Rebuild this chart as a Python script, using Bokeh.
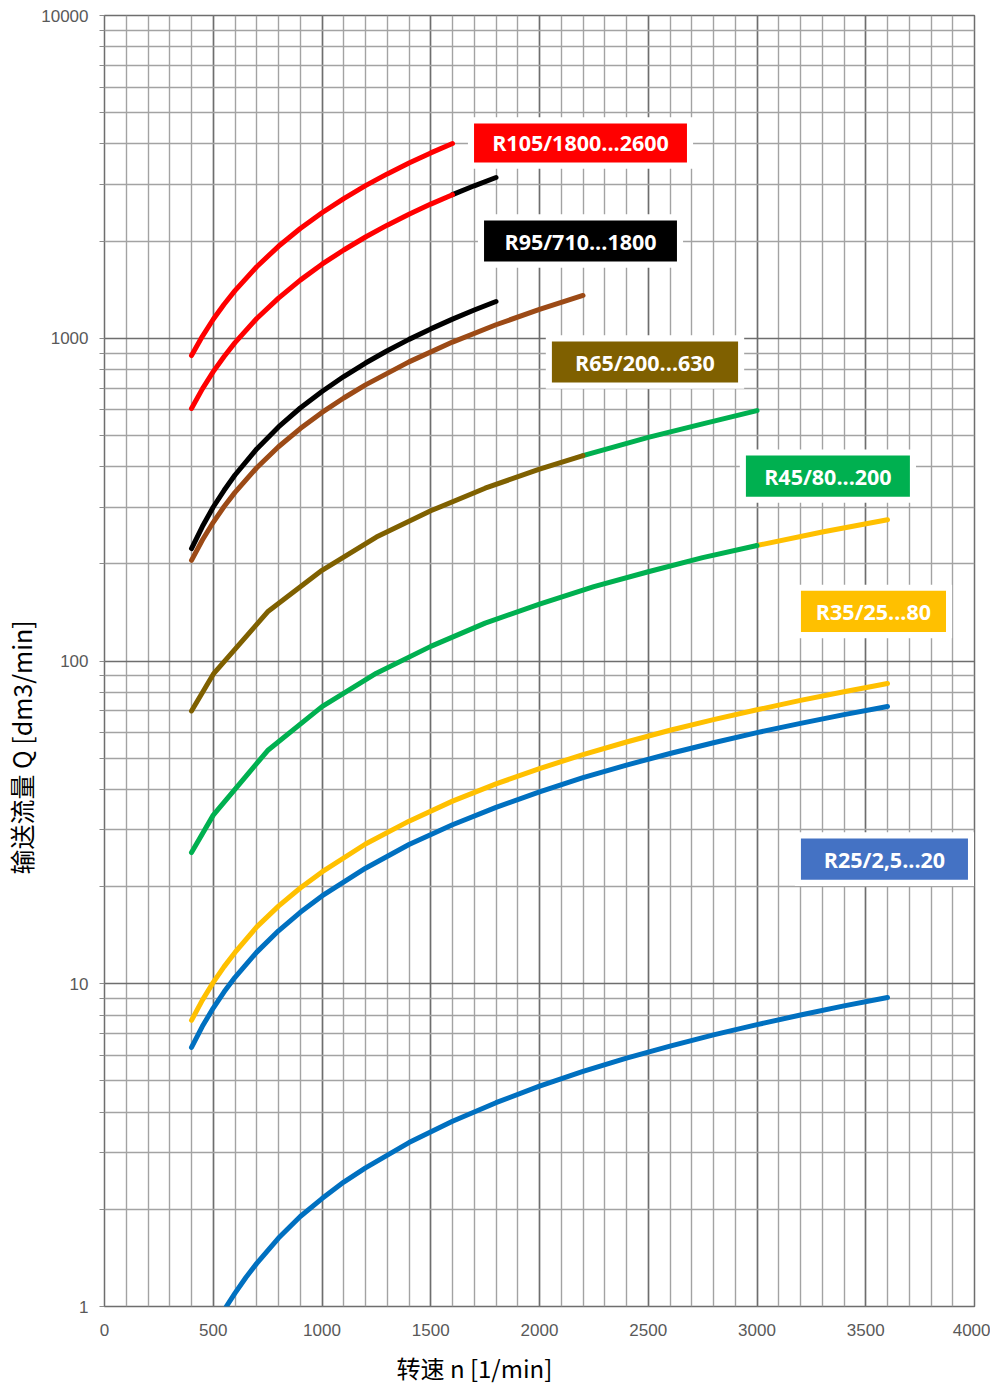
from bokeh.plotting import figure
from bokeh.models import Range1d, FixedTicker, NumeralTickFormatter, Title
from bokeh.core.properties import value
from bokeh.embed import file_html
from bokeh.resources import INLINE

# ---------------- data ----------------
n_r105_top = [400, 450, 500, 550, 600, 700, 800, 900, 1000, 1100, 1200, 1300,
              1400, 1500, 1600]
q_r105_top = [884, 1014, 1145, 1275, 1405, 1666, 1927, 2188, 2448, 2709, 2970,
              3230, 3491, 3752, 4012]

n_r105_low = [400, 450, 500, 550, 600, 700, 800, 900, 1000, 1100, 1200, 1300,
              1400, 1500, 1600]
q_r105_low = [606, 697, 788, 878, 969, 1151, 1332, 1514, 1696, 1877, 2059, 2241,
              2422, 2604, 2785]
n_r95_top = [1600, 1700, 1800]
q_r95_top = [2785, 2967, 3148]

n_r95_low = [400, 450, 500, 550, 600, 700, 800, 900, 1000, 1100, 1200, 1300,
             1400, 1500, 1600, 1700, 1800]
q_r95_low = [223, 261, 300, 338, 377, 454, 531, 608, 684, 761, 838, 915, 992,
             1069, 1146, 1223, 1300]

n_brown = [400, 450, 500, 550, 600, 700, 800, 900, 1000, 1100, 1200, 1400, 1600,
           1800, 2000, 2200]
q_brown = [205, 237, 269, 301, 333, 397, 461, 525, 589, 653, 717, 845, 973, 1101,
           1229, 1357]

n_r65_low = [400, 500, 750, 1000, 1250, 1500, 1750, 2000, 2200]
q_r65_low = [70, 91, 142, 191, 242, 292, 343, 393, 433]
n_r45_top = [2200, 2500, 2750, 3000]
q_r45_top = [433, 493, 543, 597]

n_r45_low = [400, 500, 750, 1000, 1250, 1500, 1750, 2000, 2250, 2500, 2750, 3000]
q_r45_low = [25.5, 33.3, 52.8, 72.2, 91.7, 111, 131, 150, 170, 189, 209, 228]
n_r35_top = [3000, 3300, 3600]
q_r35_top = [228, 251, 274]

n_full = [400, 450, 500, 550, 600, 700, 800, 900, 1000, 1200, 1400, 1600, 1800,
          2000, 2200, 2400, 2600, 2800, 3000, 3200, 3400, 3600]
q_r35_low = [7.7, 8.9, 10.1, 11.3, 12.5, 15.0, 17.4, 19.8, 22.2, 27.1, 31.9,
             36.8, 41.6, 46.4, 51.3, 56.1, 61.0, 65.8, 70.6, 75.5, 80.3, 85.2]
q_r25_top = [6.35, 7.38, 8.41, 9.44, 10.47, 12.53, 14.59, 16.65, 18.71, 22.8,
             27.0, 31.1, 35.2, 39.3, 43.5, 47.6, 51.7, 55.8, 60.0, 64.1, 68.2, 72.3]

n_r25_low = [560, 600, 650, 700, 800, 900, 1000, 1100, 1200, 1400, 1600, 1800,
             2000, 2200, 2400, 2600, 2800, 3000, 3200, 3400, 3600]
q_r25_low = [1.0, 1.10, 1.23, 1.36, 1.63, 1.90, 2.16, 2.43, 2.69, 3.22, 3.75,
             4.28, 4.82, 5.35, 5.88, 6.41, 6.94, 7.47, 8.00, 8.54, 9.07]

label_texts = ["R105/1800...2600", "R95/710...1800", "R65/200...630",
               "R45/80...200", "R35/25...80", "R25/2,5...20"]

x_ticks = [0, 500, 1000, 1500, 2000, 2500, 3000, 3500, 4000]
y_ticks = [1, 10, 100, 1000, 10000]

x_label = "转速 n [1/min]"
y_label = "输送流量 Q [dm3/min]"

# ---------------- styles / layout ----------------
RED, BLACK, BROWN, OLIVE = "#FF0000", "#000000", "#9C4A16", "#7F6000"
GREEN, YELLOW, BLUE, LBLUE = "#00B050", "#FFC000", "#0070C0", "#4472C4"

# label boxes: (left, right, bottom, top) in data coords
boxes = [
    (1699, 2678, 3504, 4628, RED),
    (1745, 2632, 1729, 2316, BLACK),
    (2057, 2913, 729, 977, OLIVE),
    (2949, 3703, 323, 433, GREEN),
    (3202, 3869, 123, 165, YELLOW),
    (3202, 3970, 21.0, 28.2, LBLUE),
]

p = figure(frame_width=870, frame_height=1291, y_axis_type="log",
           x_range=Range1d(0, 4000), y_range=Range1d(1, 10000),
           output_backend="svg", toolbar_location=None,
           min_border_left=20, min_border_right=16, min_border_top=15,
           min_border_bottom=10, background_fill_color="white",
           border_fill_color="white")

minor_y = [m * 10 ** d for d in range(4) for m in range(2, 10)]
p.xaxis.ticker = FixedTicker(ticks=x_ticks, minor_ticks=list(range(0, 4001, 100)))
p.yaxis.ticker = FixedTicker(ticks=y_ticks, minor_ticks=minor_y)
p.yaxis.formatter = NumeralTickFormatter(format="0")

for g in (p.xgrid, p.ygrid):
    g.grid_line_color = "#6E6E6E"
    g.grid_line_width = 1.5
    g.minor_grid_line_color = "#A3A3A3"
    g.minor_grid_line_width = 1.4
    g.grid_line_alpha = 1.0

p.outline_line_color = "#6E6E6E"
p.outline_line_width = 1.5

for ax in (p.xaxis, p.yaxis):
    ax.axis_line_color = None
    ax.major_label_text_font = "Liberation Sans"
    ax.major_label_text_font_size = "17px"
    ax.major_label_text_color = "#595959"
    ax.major_tick_in = 0
    ax.minor_tick_in = 0

p.xaxis.major_tick_out = 0
p.xaxis.minor_tick_out = 0
p.xaxis.major_label_standoff = 17
p.yaxis.major_tick_out = 5
p.yaxis.minor_tick_out = 5
p.yaxis.major_tick_line_color = "#8C8C8C"
p.yaxis.minor_tick_line_color = "#8C8C8C"
p.yaxis.major_label_standoff = 11

tx = Title(text=x_label, align="left", offset=292,
           text_font="Noto Sans CJK SC", text_font_size="24px",
           text_font_style="normal", text_color="#000000", standoff=18)
p.add_layout(tx, "below")
ty = Title(text=y_label, align="left", offset=432,
           text_font="Noto Sans CJK SC", text_font_size="25px",
           text_font_style="normal", text_color="#000000", standoff=0)
p.add_layout(ty, "left")

# ---------------- curves ----------------
LW = 5
def curve(n, q, color):
    p.line(n, q, line_color=color, line_width=LW, line_cap="round",
           line_join="round")

curve(n_r105_top, q_r105_top, RED)
curve(n_r95_top, q_r95_top, BLACK)
curve(n_r105_low, q_r105_low, RED)
curve(n_r95_low, q_r95_low, BLACK)
curve(n_brown, q_brown, BROWN)
curve(n_r45_top, q_r45_top, GREEN)
curve(n_r65_low, q_r65_low, OLIVE)
curve(n_r35_top, q_r35_top, YELLOW)
curve(n_r45_low, q_r45_low, GREEN)
curve(n_full, q_r35_low, YELLOW)
curve(n_full, q_r25_top, BLUE)
curve(n_r25_low, q_r25_low, BLUE)

# ---------------- labels ----------------
pad_x = 28
pad_f = 1.045
p.quad(left=[b[0] - pad_x for b in boxes], right=[b[1] + pad_x for b in boxes],
       bottom=[b[2] / pad_f for b in boxes], top=[b[3] * pad_f for b in boxes],
       fill_color="white", line_color=None)
p.quad(left=[b[0] for b in boxes], right=[b[1] for b in boxes],
       bottom=[b[2] for b in boxes], top=[b[3] for b in boxes],
       fill_color=[b[4] for b in boxes], line_color=None)
p.text(x=[(b[0] + b[1]) / 2 for b in boxes],
       y=[(b[2] * b[3]) ** 0.5 for b in boxes],
       text=label_texts, text_font=value("Open Sans"), text_font_style="bold",
       text_font_size="21.5px", text_color="white", text_align="center",
       text_baseline="middle")

open("out.html", "w").write(file_html(p, INLINE))
